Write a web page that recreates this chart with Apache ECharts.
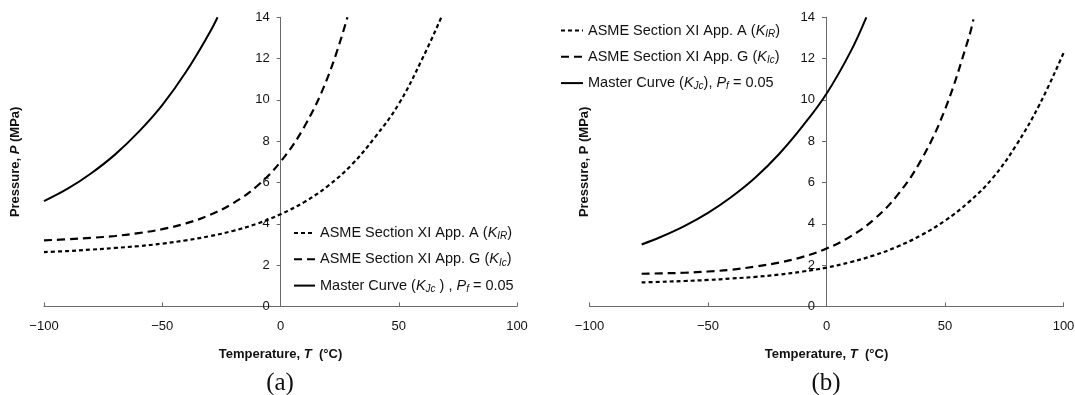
<!DOCTYPE html>
<html><head><meta charset="utf-8">
<script src="https://cdn.jsdelivr.net/npm/echarts@6/dist/echarts.min.js"></script>
<style>html,body{margin:0;padding:0;background:#fff}#c{width:1075px;height:395px}</style>
</head><body><div id="c"></div>
<script>
// ---- Chart (a) ----
const tA_a = [-100,-90,-80,-70,-60,-50,-40,-30,-20,-10,0,10,20,30,40,50,60,68];
const pA_a = [2.63,2.68,2.75,2.83,2.92,3.04,3.2,3.4,3.66,4.0,4.46,5.05,5.83,6.85,8.2,9.8,12.0,14.0];
const tG_a = [-100,-90,-80,-70,-60,-50,-40,-30,-20,-10,0,10,20,28.3];
const pG_a = [3.2,3.25,3.32,3.41,3.55,3.74,4.02,4.42,5.0,5.82,7.0,8.69,11.1,14.0];
const tM_a = [-100,-90,-80,-70,-60,-50,-40,-30,-26.6];
const pM_a = [5.1,5.7,6.45,7.35,8.45,9.75,11.35,13.25,14.0];
// ---- Chart (b) ----
const tA_b = [-78,-70,-60,-50,-40,-30,-20,-10,0,10,20,30,40,50,60,70,80,90,100];
const pA_b = [1.16,1.19,1.23,1.28,1.35,1.43,1.54,1.69,1.88,2.14,2.47,2.9,3.45,4.15,5.05,6.2,7.8,9.8,12.27];
const tG_b = [-78,-70,-60,-50,-40,-30,-20,-10,0,10,20,30,40,50,60,62];
const pG_b = [1.58,1.6,1.63,1.69,1.78,1.93,2.12,2.4,2.8,3.38,4.21,5.4,7.1,9.54,13.0,13.9];
const tM_b = [-78,-70,-60,-50,-40,-30,-20,-10,0,10,16.8];
const pM_b = [3.0,3.36,3.89,4.53,5.31,6.24,7.38,8.74,10.3,12.3,14.0];

const xTicks = [-100,-50,0,50,100];
const yTicks = [0,2,4,6,8,10,12,14];
const names = ['ASME Section XI App. A (KIR)','ASME Section XI App. G (KIc)','Master Curve (KJc), Pf = 0.05'];

const zip = (a,b) => a.map((v,i)=>[v,b[i]]);
const FONT = "'Liberation Sans', Arial, sans-serif";
const styles = [
  {type:[4,3], width:2.2},
  {type:[8,5], width:2.2},
  {type:'solid', width:2}
];
function mk(name, idx, data, si){
  return {type:'line', name, xAxisIndex:idx, yAxisIndex:idx, data, showSymbol:false, symbol:'none',
    smooth:0.4, lineStyle:Object.assign({color:'#000'}, styles[si]), itemStyle:{color:'#000'}, z:3};
}
const xAx = (idx) => ({type:'value', gridIndex:idx, min:xTicks[0], max:xTicks[xTicks.length-1], interval:50,
  axisLine:{lineStyle:{color:'#6a6a6a', width:1}},
  axisTick:{inside:true, length:4, lineStyle:{color:'#6a6a6a'}},
  axisLabel:{color:'#111', fontFamily:FONT, fontSize:13, margin:14,
     formatter:v=> v<0 ? '\u2212'+Math.abs(v) : String(v)},
  splitLine:{show:false},
  name:'Temperature, {i|T}  (°C)', nameLocation:'middle', nameGap:42, nameMoveOverlap:false,
  nameTextStyle:{color:'#111', fontFamily:FONT, fontSize:13, fontWeight:'bold',
     rich:{i:{fontStyle:'italic', fontWeight:'bold', fontSize:13, fontFamily:FONT, color:'#111'}}}
});
const yAx = (idx, nm, off, gap) => ({type:'value', gridIndex:idx, min:yTicks[0], max:yTicks[yTicks.length-1], interval:2,
  position:'left', offset:off,
  axisLine:{onZero:false, lineStyle:{color:'#6a6a6a', width:1}},
  axisTick:{inside:false, length:4, lineStyle:{color:'#6a6a6a'}},
  axisLabel:{color:'#111', fontFamily:FONT, fontSize:13, margin:11},
  splitLine:{show:false},
  name:nm, nameLocation:'middle', nameGap:gap, nameMoveOverlap:false,
  nameTextStyle:{color:'#111', fontFamily:FONT, fontSize:13, fontWeight:'bold',
     rich:{i:{fontStyle:'italic', fontWeight:'bold', fontSize:13, fontFamily:FONT, color:'#111'}}}
});
const legRich = {
  n:{fontFamily:FONT, fontSize:14.5, color:'#111'},
  k:{fontFamily:FONT, fontSize:14.5, fontStyle:'italic', color:'#111'},
  s:{fontFamily:FONT, fontSize:10, fontStyle:'italic', color:'#111', verticalAlign:'bottom', padding:[7,0,0,0]}
};
const legA = ['{n|ASME Section XI App. A (}{k|K}{s|IR}{n|)}', '{n|ASME Section XI App. G (}{k|K}{s|Ic}{n|)}', '{n|Master Curve (}{k|K}{s|Jc}{n| ) , }{k|P}{s|f}{n| = 0.05}'];
const legB = ['{n|ASME Section XI App. A (}{k|K}{s|IR}{n|)}', '{n|ASME Section XI App. G (}{k|K}{s|Ic}{n|)}', '{n|Master Curve (}{k|K}{s|Jc}{n|), }{k|P}{s|f}{n| = 0.05}'];
const mkLeg = (left, top, iw, arr) => ({orient:'vertical', left, top, itemWidth:iw, itemHeight:14, itemGap:10.3,
  data:names, selectedMode:false, itemStyle:{opacity:0},
  formatter:name => arr[names.indexOf(name)], textStyle:{color:'#111', fontFamily:FONT, fontSize:14.5, rich:legRich}});

const option = {
  animation:false,
  backgroundColor:'#fff',
  grid:[
    {left:44, right:558, top:17.3, bottom:88.6, outerBoundsMode:'none', containLabel:false},
    {left:589.5, right:11.5, top:17.3, bottom:88.6, outerBoundsMode:'none', containLabel:false}
  ],
  xAxis:[xAx(0), xAx(1)],
  yAxis:[yAx(0,'Pressure, {i|P} (MPa)',-236.7,258.5), yAx(1,'Pressure, P (MPa)',-236.5,235.5)],
  legend:[mkLeg(288, 220.5, 21, legA), mkLeg(555, 18, 22, legB)],
  series:[
    mk(names[0],0,zip(tA_a,pA_a),0), mk(names[1],0,zip(tG_a,pG_a),1), mk(names[2],0,zip(tM_a,pM_a),2),
    mk(names[0],1,zip(tA_b,pA_b),0), mk(names[1],1,zip(tG_b,pG_b),1), mk(names[2],1,zip(tM_b,pM_b),2)
  ],
  graphic:[
    {type:'text', x:280, y:383, style:{text:'(a)', font:"25px 'Liberation Serif', serif", fill:'#111', align:'center', verticalAlign:'middle'}},
    {type:'text', x:826, y:383, style:{text:'(b)', font:"25px 'Liberation Serif', serif", fill:'#111', align:'center', verticalAlign:'middle'}}
  ]
};
const chart = echarts.init(document.getElementById('c'), null, {renderer:'canvas'});
chart.setOption(option);
</script></body></html>
